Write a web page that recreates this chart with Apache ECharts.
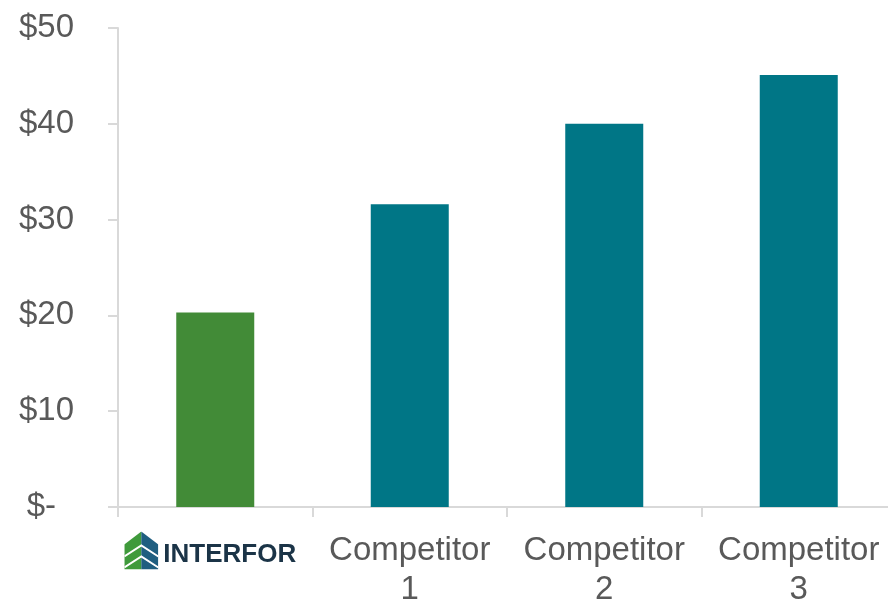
<!DOCTYPE html>
<html>
<head>
<meta charset="utf-8">
<script src="https://cdn.jsdelivr.net/npm/echarts@6/dist/echarts.min.js"></script>
<style>html,body{margin:0;padding:0;background:#fff;}#c{width:888px;height:602px;}</style>
</head>
<body>
<div id="c"></div>
<script>
const categories = ['INTERFOR', 'Competitor\n1', 'Competitor\n2', 'Competitor\n3'];
const values = [20.3, 31.6, 40.0, 45.1];
const yTicks = [0, 10, 20, 30, 40, 50];

const GREEN = '#428B37';
const TEAL = '#007686';
const TXT = '#595959';
const AXIS = '#D9D9D9';
const FONT = 'Liberation Sans, Arial, sans-serif';

const iconSvg = '<svg xmlns="http://www.w3.org/2000/svg" width="34" height="38" viewBox="0 0 34 38">' +
  '<polygon points="17,0 0,13 0,38 17,38" fill="#3F9A3B"/>' +
  '<polygon points="17,0 34,13 34,38 17,38" fill="#1F5E80"/>' +
  '<polyline points="0,25 17,14 34,25" fill="none" stroke="#fff" stroke-width="2"/>' +
  '<polyline points="0,36 17,25 34,36" fill="none" stroke="#fff" stroke-width="2"/>' +
  '</svg>';
const iconUri = 'data:image/svg+xml;charset=utf-8,' + encodeURIComponent(iconSvg);

const chart = echarts.init(document.getElementById('c'), null, {renderer: 'canvas'});
chart.setOption({
  animation: false,
  grid: {left: 118, width: 778, top: 28, bottom: 95, containLabel: false, outerBoundsMode: 'none'},
  xAxis: {
    type: 'category',
    data: categories,
    axisLine: {show: true, lineStyle: {color: AXIS, width: 2}},
    axisTick: {show: true, length: 10, lineStyle: {color: AXIS, width: 2}},
    axisLabel: {
      margin: 24,
      color: TXT,
      fontFamily: FONT,
      fontSize: 33,
      lineHeight: 39,
      interval: 0,
      formatter: function (v, i) {
        if (i === 0) return '{icon|}{logo|' + v + '}';
        return v;
      },
      rich: {
        icon: {width: 34, height: 38, backgroundColor: {image: iconUri}},
        logo: {fontFamily: FONT, fontWeight: 'bold', fontSize: 26, color: '#1B3447', padding: [8, 10, 0, 5]}
      }
    }
  },
  yAxis: {
    type: 'value',
    min: 0, max: 50, interval: 10,
    axisLine: {show: true, lineStyle: {color: AXIS, width: 2}},
    axisTick: {show: true, length: 10, lineStyle: {color: AXIS, width: 2}},
    splitLine: {show: false},
    axisLabel: {
      margin: 44,
      color: TXT,
      fontFamily: FONT,
      fontSize: 33,
      formatter: function (v) {
        if (yTicks.indexOf(v) < 0) return '';
        return v === 0 ? '{z|$-}' : '$' + v;
      },
      rich: {z: {fontSize: 33, color: TXT, fontFamily: FONT, padding: [0, 18, 0, 0]}}
    }
  },
  series: [{
    type: 'bar',
    barWidth: 78,
    data: values.map(function (v, i) {
      return {value: v, itemStyle: {color: i === 0 ? GREEN : TEAL}};
    })
  }]
});
</script>
</body>
</html>
